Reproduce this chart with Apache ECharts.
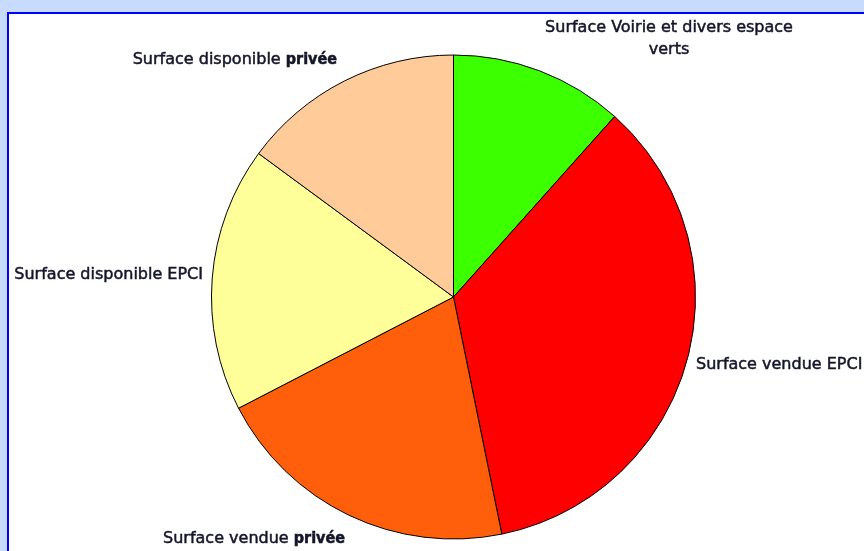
<!DOCTYPE html>
<html><head><meta charset="utf-8">
<script src="https://cdn.jsdelivr.net/npm/echarts@6/dist/echarts.min.js"></script>
<style>html,body{margin:0;padding:0;background:#c6dbfd}#c{width:864px;height:551px}</style>
</head><body><div id="c"></div><script>
// Data
const categories = ['Surface Voirie et divers espace verts', 'Surface vendue EPCI', 'Surface vendue privée', 'Surface disponible EPCI', 'Surface disponible privée'];
const labelTexts = ['Surface Voirie et divers espace\nverts', 'Surface vendue EPCI', 'Surface vendue {b|privée}', 'Surface disponible EPCI', 'Surface disponible {b|privée}'];
const values = [11.6, 35.2, 20.6, 17.7, 14.9];

// Styles / layout
const colors = ['#3cff00', '#ff0000', '#ff5f0a', '#ffff99', '#ffcc99'];
const labelAnchors = [[669, 39, 'center'], [696, 365, 'left'], [345, 539, 'right'], [203, 275, 'right'], [337, 60, 'right']];

const chart = echarts.init(document.getElementById('c'), null, {renderer: 'canvas'});
chart.setOption({
  backgroundColor: '#c6dbfd',
  animation: false,
  graphic: [{
    type: 'rect', z: 0,
    shape: {x: 8, y: 13, width: 900, height: 600},
    style: {fill: '#ffffff', stroke: '#0000ff', lineWidth: 2}
  }],
  series: [{
    type: 'pie',
    z: 5,
    center: [453.5, 297],
    radius: 242,
    startAngle: 90,
    clockwise: true,
    avoidLabelOverlap: false,
    itemStyle: {borderColor: '#000', borderWidth: 1},
    label: {
      show: true,
      position: 'outside',
      fontFamily: 'DejaVu Sans',
      fontSize: 16,
      color: '#15152a',
      textBorderColor: '#15152a',
      textBorderWidth: 0.5,
      lineHeight: 22,
      formatter: p => labelTexts[p.dataIndex],
      rich: {b: {fontFamily: 'DejaVu Sans Condensed', fontSize: 16, fontWeight: 'bold', color: '#15152a', textBorderColor: '#15152a', textBorderWidth: 0.5}}
    },
    labelLine: {show: false},
    labelLayout: p => {
      const a = labelAnchors[p.dataIndex];
      return {x: a[0], y: a[1], align: a[2], verticalAlign: 'middle'};
    },
    emphasis: {disabled: true},
    data: categories.map((c, i) => ({name: c, value: values[i], itemStyle: {color: colors[i]}}))
  }]
});
</script></body></html>
